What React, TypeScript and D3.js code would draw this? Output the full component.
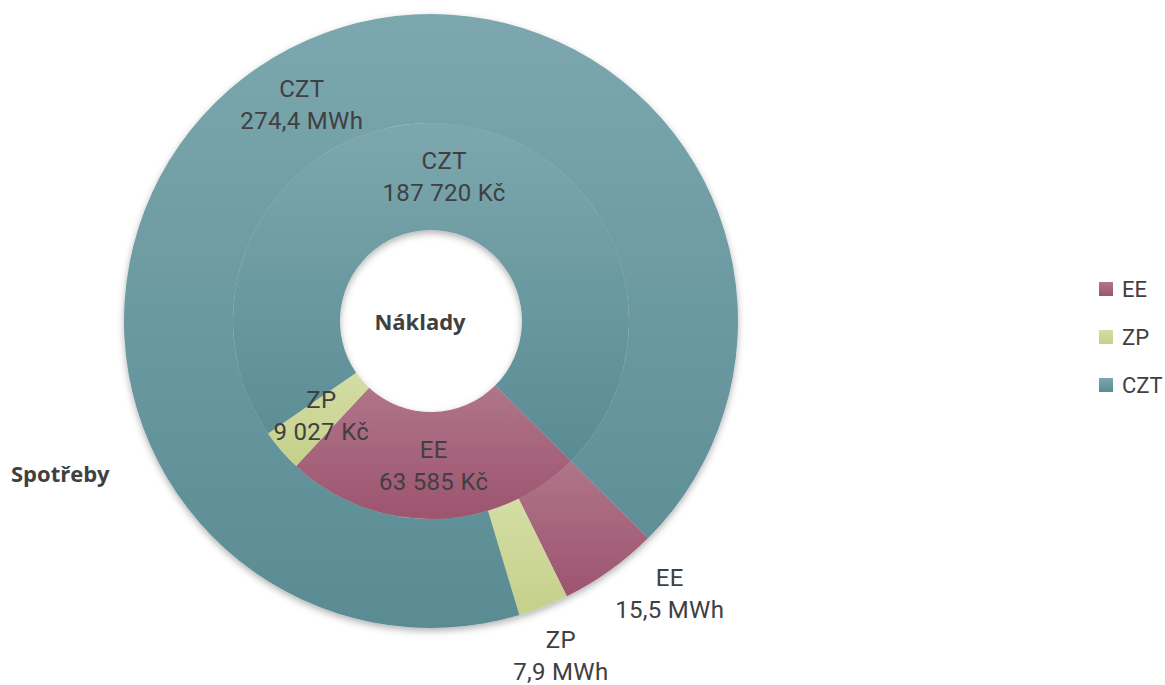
import React from 'react';
import * as d3 from 'd3';

const categories = ['EE', 'ZP', 'CZT'];
const costValues = [63585, 9027, 187720];
const costLabels = ['63 585 Kč', '9 027 Kč', '187 720 Kč'];
const consumptionValues = [15.5, 7.9, 274.4];
const consumptionLabels = ['15,5 MWh', '7,9 MWh', '274,4 MWh'];
const innerTitle = 'Náklady';
const outerTitle = 'Spotřeby';
const colorTop = ['#b07589', '#d4dda4', '#7ca7ae'];
const colorBottom = ['#9d546f', '#c5d08b', '#5a8b93'];

const W = 1165;
const H = 685;
const cx = 431;
const cy = 321;
const rHole = 91;
const rMid = 198;
const rOuter = 307;
const startAngle = (135 * Math.PI) / 180;
const labelFont = "Roboto, 'Noto Sans', sans-serif";
const boldFont = "'Open Sans', 'Noto Sans', sans-serif";
const textColor = '#404040';

// outer labels of the small outer slices are placed outside the ring
const outerLabelOutside = [true, true, false];
const outerLabelShift: [number, number][] = [[29, -20], [-2, 0], [0, 0]];

export default function App() {
  const pie = d3
    .pie<number>()
    .sort(null)
    .startAngle(startAngle)
    .endAngle(startAngle + 2 * Math.PI);

  const innerArcs = pie(costValues);
  const outerArcs = pie(consumptionValues);

  const innerArc = d3.arc<d3.PieArcDatum<number>>().innerRadius(rHole).outerRadius(rMid);
  const outerArc = d3.arc<d3.PieArcDatum<number>>().innerRadius(rMid).outerRadius(rOuter);
  const innerLabelArc = d3.arc<d3.PieArcDatum<number>>().innerRadius(145).outerRadius(145);
  const outerLabelArc = d3.arc<d3.PieArcDatum<number>>().innerRadius(252).outerRadius(252);
  const outsideLabelArc = d3.arc<d3.PieArcDatum<number>>().innerRadius(360).outerRadius(360);

  const legendY = d3.scalePoint<string>().domain(categories).range([289, 385]);

  const twoLine = (key: string, x: number, y: number, a: string, b: string) => (
    <text
      key={key}
      x={x}
      y={y}
      textAnchor="middle"
      fontFamily={labelFont}
      fontSize={24}
      letterSpacing={0.3}
      fill={textColor}
    >
      <tspan x={x} y={y - 16} dominantBaseline="central">{a}</tspan>
      <tspan x={x} y={y + 16} dominantBaseline="central">{b}</tspan>
    </text>
  );

  return (
    <svg
      width={W}
      height={H}
      style={{ position: 'absolute', left: 0, top: 0, background: '#fff' }}
    >
      <defs>
        {categories.map((c, i) => (
          <linearGradient key={c} id={`g${i}`} x1="0" y1="0" x2="0" y2="1">
            <stop offset="0" stopColor={colorTop[i]} />
            <stop offset="1" stopColor={colorBottom[i]} />
          </linearGradient>
        ))}
        <filter id="shadow" x="-10%" y="-10%" width="120%" height="120%">
          <feDropShadow dx="0" dy="3" stdDeviation="3.5" floodColor="#000" floodOpacity="0.3" />
        </filter>
      </defs>
      <rect width={W} height={H} fill="#fff" />

      <g transform={`translate(${cx},${cy})`} filter="url(#shadow)">
        {outerArcs.map((d, i) => (
          <path key={`o${i}`} d={outerArc(d) || ''} fill={`url(#g${i})`} />
        ))}
        {innerArcs.map((d, i) => (
          <path key={`i${i}`} d={innerArc(d) || ''} fill={`url(#g${i})`} />
        ))}
      </g>

      <g transform={`translate(${cx},${cy})`}>
        {innerArcs.map((d, i) => {
          const [x, y] = innerLabelArc.centroid(d);
          return twoLine(`il${i}`, x, y, categories[i], costLabels[i]);
        })}
        {outerArcs.map((d, i) => {
          const [x0, y0] = outerLabelOutside[i] ? outsideLabelArc.centroid(d) : outerLabelArc.centroid(d);
          const [sx, sy] = outerLabelShift[i];
          return twoLine(`ol${i}`, x0 + sx, y0 + sy, categories[i], consumptionLabels[i]);
        })}
        <text
          x={-11}
          y={0}
          textAnchor="middle"
          dominantBaseline="central"
          fontFamily={boldFont}
          fontWeight="bold"
          fontSize={22}
          fill={textColor}
        >
          {innerTitle}
        </text>
      </g>

      <text
        x={11}
        y={473}
        dominantBaseline="central"
        fontFamily={boldFont}
        fontWeight="bold"
        fontSize={22}
        fill={textColor}
      >
        {outerTitle}
      </text>

      <g>
        {categories.map((c, i) => (
          <g key={c} transform={`translate(1099,${legendY(c)})`}>
            <rect x={0} y={-7} width={14} height={14} fill={`url(#g${i})`} />
            <text
              x={23}
              y={0}
              dominantBaseline="central"
              fontFamily={labelFont}
              fontSize={22}
              fill={textColor}
            >
              {c}
            </text>
          </g>
        ))}
      </g>
    </svg>
  );
}
